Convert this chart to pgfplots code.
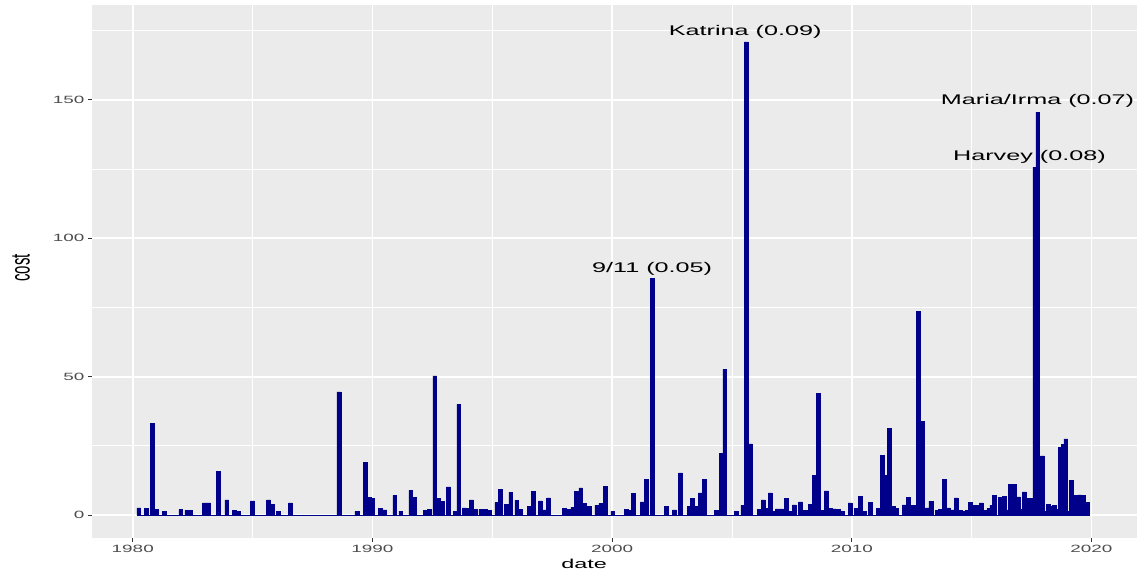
\documentclass[border=0pt]{standalone}
\usepackage{pgfplots}
\pgfplotsset{compat=1.18}
\usepackage{fontspec}
\setmainfont{Liberation Sans}
\definecolor{bardark}{RGB}{0,0,139}
\definecolor{panelbg}{HTML}{EBEBEB}
\definecolor{ticktext}{HTML}{4D4D4D}
\definecolor{tickline}{HTML}{333333}
% the reference is stretched sideways, so text is too
\newcommand{\wide}[1]{\scalebox{1.8}[1]{#1}}

\begin{document}
\begin{tikzpicture}
\begin{axis}[
    scale only axis,
    width=1045pt, height=532.5pt,
    xmin=1978.3, xmax=2021.9,
    ymin=-8.3, ymax=184.1,
    axis background/.style={fill=panelbg},
    axis line style={draw=none},
    xtick={1980,1990,2000,2010,2020},
    minor xtick={1985,1995,2005,2015},
    ytick={0,50,100,150},
    minor ytick={25,75,125,175},
    xtick pos=bottom, ytick pos=left,
    grid=both,
    major grid style={white, line width=1.8pt},
    minor grid style={white, line width=0.9pt},
    tick align=outside,
    major tick length=4pt,
    minor tick length=0pt,
    tick style={tickline, line width=1pt},
    /pgf/number format/assume math mode=true,
    xticklabel={\wide{\pgfmathprintnumber[1000 sep={}]{\tick}}},
    yticklabel={\wide{\pgfmathprintnumber{\tick}}},
    ticklabel style={font=\fontsize{10.5}{12}\selectfont, text=ticktext},
    xlabel={\wide{date}},
    xlabel style={font=\fontsize{13}{15}\selectfont, at={(rel axis cs:0.471,0)}, anchor=base, yshift=-30pt},
    ylabel={\scalebox{1}[1.8]{cost}},
    ylabel style={font=\fontsize{15}{17}\selectfont, at={(rel axis cs:-0.0679,0.507)}, anchor=center},
]
\coordinate (sw) at (rel axis cs:0,0);
\coordinate (ne) at (rel axis cs:1,1);

% zero-cost periods show as a thin line along the bottom
\addplot[bardark, line width=0.8pt, forget plot] coordinates {(1980.2,0) (2019.9,0)};

\addplot[ybar, bar width=0.16, bar shift=0pt, fill=bardark, draw=bardark, line width=0.5pt] coordinates {
(1980.25,2.6) (1980.58,2.3) (1980.83,33.1) (1981.0,2.0) (1981.33,1.4)
(1982.0,2.0) (1982.25,1.7) (1982.42,1.7) (1983.0,4.4) (1983.17,4.4)
(1983.58,15.8) (1983.92,5.5) (1984.25,1.8) (1984.42,1.3) (1985.0,5.1)
(1985.67,5.5) (1985.83,3.8) (1986.08,1.4) (1986.58,4.4) (1988.6,44.5)
(1989.35,1.3) (1989.69,19.1) (1989.85,6.5) (1990.0,5.9) (1990.34,2.3)
(1990.51,1.9) (1990.93,7.1) (1991.18,1.4) (1991.6,8.9) (1991.76,6.5)
(1992.2,1.8) (1992.37,2.0) (1992.6,50.3) (1992.76,5.9) (1992.93,4.9)
(1993.18,10.2) (1993.45,1.4) (1993.6,40.0) (1993.83,2.6) (1993.97,2.3)
(1994.12,5.5) (1994.28,2.0) (1994.52,2.0) (1994.72,2.0) (1994.88,1.7)
(1995.19,4.5) (1995.35,9.4) (1995.6,3.8) (1995.77,8.3) (1996.02,5.3)
(1996.17,2.0) (1996.55,3.1) (1996.7,8.6) (1997.01,5.1) (1997.18,1.9)
(1997.35,6.2) (1998.02,2.4) (1998.17,2.0) (1998.36,2.9) (1998.52,8.6)
(1998.69,9.8) (1998.86,4.2) (1999.03,3.2) (1999.36,3.5) (1999.53,4.2)
(1999.7,10.4) (2000.03,1.3) (2000.58,2.0) (2000.72,1.7) (2000.87,7.8)
(2001.27,4.8) (2001.43,12.8) (2001.68,85.5) (2002.27,3.2) (2002.6,1.9)
(2002.85,15.2) (2003.22,3.1) (2003.35,6.0) (2003.52,3.0) (2003.69,8.0)
(2003.85,12.8) (2004.35,1.7) (2004.55,22.4) (2004.7,52.6) (2005.18,1.4)
(2005.45,3.5) (2005.6,171.0) (2005.77,25.7) (2006.15,2.0) (2006.3,5.5)
(2006.45,2.3) (2006.6,8.0) (2006.77,1.4) (2006.9,2.2) (2007.05,2.2)
(2007.27,6.0) (2007.42,1.4) (2007.6,3.7) (2007.86,4.8) (2008.0,1.8)
(2008.15,1.8) (2008.28,3.8) (2008.44,14.4) (2008.61,44.0) (2008.77,1.8)
(2008.94,8.7) (2009.11,2.3) (2009.28,2.2) (2009.45,2.0) (2009.62,1.4)
(2009.93,4.4) (2010.18,2.4) (2010.34,6.8) (2010.52,1.4) (2010.77,4.7)
(2011.1,2.3) (2011.27,21.5) (2011.42,14.2) (2011.58,31.2) (2011.72,3.0)
(2011.86,2.3) (2012.19,3.7) (2012.36,6.5) (2012.5,3.5) (2012.62,3.5)
(2012.78,73.5) (2012.94,33.8) (2013.15,2.6) (2013.3,5.0) (2013.58,1.8)
(2013.7,2.0) (2013.86,13.0) (2014.03,2.6) (2014.22,1.9) (2014.36,6.2)
(2014.52,1.8) (2014.68,1.4) (2014.8,1.8) (2014.95,4.5) (2015.12,3.5)
(2015.28,3.5) (2015.4,4.4) (2015.55,1.7) (2015.72,2.3) (2015.84,3.5)
(2015.96,7.2) (2016.2,6.3) (2016.37,6.8) (2016.5,1.9) (2016.62,11.0)
(2016.79,11.0) (2016.95,6.6) (2017.08,2.0) (2017.2,8.4) (2017.37,5.9)
(2017.45,5.9) (2017.63,125.7) (2017.76,145.6) (2017.95,21.4) (2018.08,1.4)
(2018.2,3.8) (2018.32,3.2) (2018.45,3.6) (2018.58,2.0) (2018.7,24.5)
(2018.81,25.6) (2018.93,27.5) (2019.05,1.4) (2019.16,12.6) (2019.33,7.2)
(2019.5,7.3) (2019.66,7.1) (2019.83,4.7)
};

\begin{scope}[every node/.style={anchor=base, font=\fontsize{14}{16}\selectfont}]
\node at (axis cs:2001.67,87.8) {\wide{9/11 (0.05)}};
\node at (axis cs:2005.55,173.1) {\wide{Katrina (0.09)}};
\node at (axis cs:2017.75,148.2) {\wide{Maria/Irma (0.07)}};
\node at (axis cs:2017.41,128.1) {\wide{Harvey (0.08)}};
\end{scope}
\end{axis}
\pgfresetboundingbox
\path ([xshift=-92pt,yshift=-37pt]sw) rectangle ([xshift=3pt,yshift=5.5pt]ne);
\end{tikzpicture}
\end{document}
